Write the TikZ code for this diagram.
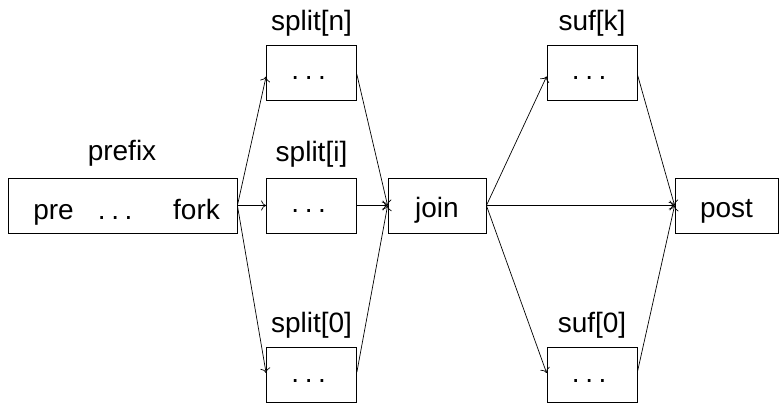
\documentclass[tikz,border=0pt]{standalone}
\usepackage{fontspec}
\setmainfont{Liberation Sans}
\usetikzlibrary{arrows.meta}
% spaced ellipsis with a trailing kern, as \ldots sets it
\newcommand{\spdots}{.\kern0.2em.\kern0.2em.\kern0.2em}
\begin{document}
\begin{tikzpicture}[x=1pt,y=-1pt,
  every node/.style={font=\fontsize{28}{32}\selectfont, inner sep=0pt},
  box/.style={draw, line width=0.8pt, rectangle, minimum height=55pt},
  smallbox/.style={box, minimum width=90pt},
  txt/.style={anchor=base},
  flow/.style={line width=0.7pt, -{To[length=5pt,width=10pt]}}]
\useasboundingbox (0,0) rectangle (779,403);

% boxes
\node[box, minimum width=229pt] (prefix) at (122.5,205.5) {};
\node[smallbox] (sn) at (311.5,72.5) {};
\node[smallbox] (si) at (311.5,205.5) {};
\node[smallbox] (s0) at (311.5,374.5) {};
\node[box, minimum width=98pt] (join) at (437,205.5) {};
\node[smallbox] (fk) at (592,72.5) {};
\node[smallbox] (f0) at (592,374.5) {};
\node[box, minimum width=103pt] (post) at (726.5,205.5) {};

% texts inside the boxes
\node[txt] (tpre) at (53.5,220) {pre};
\node[txt] (tdots) at (118,220) {\spdots};
\node[txt] (tfork) at (196.5,220) {fork};
\node[txt] (tsn) at (311.5,80) {\spdots};
\node[txt] (tsi) at (311.5,213) {\spdots};
\node[txt] (ts0) at (311.5,382) {\spdots};
\node[txt] (tjoin) at (437,218) {join};
\node[txt] (tfk) at (592,80) {\spdots};
\node[txt] (tf0) at (592,382) {\spdots};
\node[txt] (tpost) at (726.5,218) {post};

% labels above the boxes
\node[txt] (lprefix) at (122,161) {prefix};
\node[txt] (lsn) at (311.5,31) {split[n]};
\node[txt] (lsi) at (311.5,162) {split[i]};
\node[txt] (ls0) at (311.5,332) {split[0]};
\node[txt] (lfk) at (592,31) {suf[k]};
\node[txt] (lf0) at (592,332) {suf[0]};

% fork into the splits
\draw[flow] (prefix.east) -- ([yshift=-4pt]sn.west);
\draw[flow] (prefix.east) -- (si.west);
\draw[flow] (prefix.east) -- ([yshift=1.5pt]s0.west);
% splits into join
\draw[flow] ([yshift=-2pt]sn.east) -- (join.west);
\draw[flow] (si.east) -- (join.west);
\draw[flow] ([yshift=2.5pt]s0.east) -- (join.west);
% join into the suffixes and post
\draw[flow] (join.east) -- ([yshift=-4pt]fk.west);
\draw[flow] (join.east) -- (post.west);
\draw[flow] (join.east) -- ([yshift=1.5pt]f0.west);
% suffixes into post
\draw[flow] ([yshift=-2pt]fk.east) -- (post.west);
\draw[flow] ([yshift=2.5pt]f0.east) -- (post.west);
\end{tikzpicture}
\end{document}
